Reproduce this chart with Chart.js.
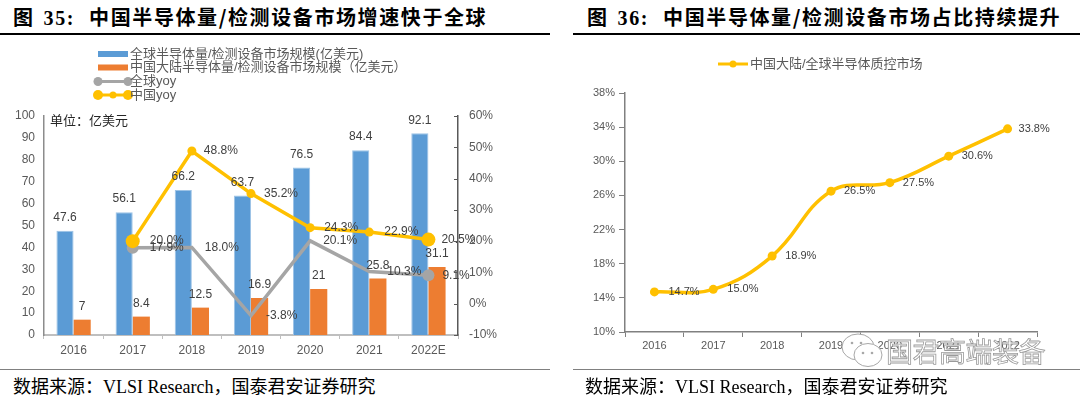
<!DOCTYPE html>
<html>
<head>
<meta charset="utf-8">
<script src="https://cdn.jsdelivr.net/npm/chart.js@4.4.1/dist/chart.umd.min.js"></script>
<style>
  html, body { margin:0; padding:0; background:#fff; }
  body { width:1080px; height:399px; position:relative; overflow:hidden; }
  .title { position:absolute; top:5px; font-family:"Noto Sans CJK SC", sans-serif; font-weight:700; font-size:20px; line-height:24px; letter-spacing:1.6px; color:#000; white-space:nowrap; }
  .title .num { font-family:"Liberation Serif", serif; font-weight:700; margin-left:9px; margin-right:14px; }
  .rule { position:absolute; top:33px; height:2px; background:#000; }
  .brule { position:absolute; top:369px; height:1px; background:#808080; }
  .source { position:absolute; top:377px; font-family:"Liberation Serif", "Noto Sans CJK SC", serif; font-size:18px; line-height:20px; color:#000; white-space:nowrap; }
  .unit { position:absolute; left:50px; top:113px; font-family:"Liberation Sans","Noto Sans CJK SC",sans-serif; font-size:13px; line-height:16px; color:#262626; }
  canvas { position:absolute; }
  .wm { position:absolute; left:886px; top:334px; font-family:"Noto Sans CJK SC", sans-serif; font-size:27px; line-height:34px; color:#fff; -webkit-text-stroke:0.8px #9a9a9a; letter-spacing:-0.5px; white-space:nowrap; }
  .wmicon { position:absolute; left:838px; top:330px; }
</style>
</head>
<body>
<div class="title" style="left:13px">图<span class="num">35:</span>中国半导体量/检测设备市场增速快于全球</div>
<div class="title" style="left:587px">图<span class="num">36:</span>中国半导体量/检测设备市场占比持续提升</div>
<div class="rule" style="left:0;width:550px"></div>
<div class="rule" style="left:573px;width:507px"></div>

<canvas id="left" width="540" height="325" style="left:0;top:40px;width:540px;height:325px"></canvas>
<canvas id="right" width="535" height="325" style="left:545px;top:40px;width:535px;height:325px"></canvas>
<div class="unit">单位：亿美元</div>

<svg class="wmicon" width="50" height="42" viewBox="0 0 50 42">
  <ellipse cx="20" cy="17" rx="16" ry="13" fill="#fff" stroke="#a8a8a8" stroke-width="1"/>
  <ellipse cx="30" cy="25" rx="14" ry="11.5" fill="#fff" stroke="#a8a8a8" stroke-width="1"/>
  <circle cx="25" cy="23" r="1.3" fill="#a8a8a8"/><circle cx="34" cy="23" r="1.3" fill="#a8a8a8"/>
  <circle cx="14" cy="13" r="1.3" fill="#a8a8a8"/><circle cx="23" cy="13" r="1.3" fill="#a8a8a8"/>
</svg>
<div class="wm">国君高端装备</div>

<div class="brule" style="left:0;width:550px"></div>
<div class="brule" style="left:573px;width:507px"></div>
<div class="source" style="left:13px">数据来源：VLSI Research，国泰君安证券研究</div>
<div class="source" style="left:585px">数据来源：VLSI Research，国泰君安证券研究</div>

<script>
// ---------- data ----------
const categories   = ['2016','2017','2018','2019','2020','2021','2022E'];
const globalMarket = [47.6, 56.1, 66.2, 63.7, 76.5, 84.4, 92.1];
const chinaMarket  = [7, 8.4, 12.5, 16.9, 21, 25.8, 31.1];
const globalYoy    = [null, 17.9, 18.0, -3.8, 20.1, 10.3, 9.1];
const chinaYoy     = [null, 20.0, 48.8, 35.2, 24.3, 22.9, 20.5];

const shareYears   = ['2016','2017','2018','2019','2020','2021','2022'];
const chinaShare   = [14.7, 15.0, 18.9, 26.5, 27.5, 30.6, 33.8];

const leftLegend  = ['全球半导体量/检测设备市场规模(亿美元)', '中国大陆半导体量/检测设备市场规模（亿美元）', '全球yoy', '中国yoy'];
const rightLegend = ['中国大陆/全球半导体质控市场'];

// ---------- styling ----------
const BLUE = '#5B9BD5', ORANGE = '#ED7D31', GREY = '#A5A5A5', GOLD = '#FFC000';
const FONT = '"Liberation Sans", Arial, "Noto Sans CJK SC", sans-serif';
Chart.defaults.font.family = FONT;
Chart.defaults.color = '#595959';
Chart.defaults.animation = false;

// value labels plugin
const valueLabels = {
  id: 'valueLabels',
  afterDatasetsDraw(chart) {
    const ctx = chart.ctx;
    chart.data.datasets.forEach((ds, i) => {
      if (!ds.labelMode) return;
      const meta = chart.getDatasetMeta(i);
      ctx.save();
      ctx.font = (ds.labelSize || 12) + 'px ' + FONT;
      ctx.fillStyle = '#404040';
      meta.data.forEach((el, j) => {
        const v = ds.data[j];
        if (v == null) return;
        const txt = ds.labelPct ? v.toFixed(1) + '%' : String(v);
        if (ds.labelMode === 'top') {
          ctx.textAlign = 'center'; ctx.textBaseline = 'middle';
          ctx.fillText(txt, el.x, el.y - 13);
        } else {
          ctx.textAlign = 'left'; ctx.textBaseline = 'middle';
          const off = (ds.labelOffsets && ds.labelOffsets[j]) || 13;
          ctx.fillText(txt, el.x + off, el.y);
        }
      });
      ctx.restore();
    });
  }
};

// custom legend + inward ticks for the left chart
const leftExtras = {
  id: 'leftExtras',
  afterDraw(chart) {
    const ctx = chart.ctx;
    ctx.save();
    // inward ticks on right axis
    const y1 = chart.scales.y1;
    ctx.strokeStyle = '#595959'; ctx.lineWidth = 1;
    y1.ticks.forEach(t => {
      const y = Math.round(y1.getPixelForValue(t.value)) + 0.5;
      ctx.beginPath(); ctx.moveTo(y1.left - 4, y); ctx.lineTo(y1.left, y); ctx.stroke();
    });
    // legend
    const rows = [14, 27.5, 41.5, 55];
    const x0 = 98, x1 = 128;
    ctx.font = '13px ' + FONT; ctx.textBaseline = 'middle'; ctx.textAlign = 'left';
    chart.data.datasets.forEach((ds, i) => {
      const y = rows[i];
      if (ds.type === 'bar') {
        ctx.fillStyle = ds.backgroundColor;
        ctx.fillRect(x0, y - 3, x1 - x0, 6);
      } else {
        ctx.strokeStyle = ds.borderColor; ctx.lineWidth = 3;
        ctx.beginPath(); ctx.moveTo(x0, y); ctx.lineTo(x1, y); ctx.stroke();
        ctx.fillStyle = ds.borderColor;
        const dots = ds.legendDots;
        dots.forEach(d => { ctx.beginPath(); ctx.arc(d[0], y, d[1], 0, Math.PI * 2); ctx.fill(); });
      }
      ctx.fillStyle = '#595959';
      ctx.fillText(leftLegend[i], x1 + 2, y);
    });
    ctx.restore();
  }
};

const rightExtras = {
  id: 'rightExtras',
  afterDraw(chart) {
    const ctx = chart.ctx;
    ctx.save();
    const y = 24, x0 = 173, x1 = 203;
    ctx.strokeStyle = GOLD; ctx.lineWidth = 3;
    ctx.beginPath(); ctx.moveTo(x0, y); ctx.lineTo(x1, y); ctx.stroke();
    ctx.fillStyle = GOLD;
    ctx.beginPath(); ctx.arc((x0 + x1) / 2, y, 3.5, 0, Math.PI * 2); ctx.fill();
    ctx.font = '13px ' + FONT; ctx.textBaseline = 'middle'; ctx.fillStyle = '#595959';
    ctx.fillText(rightLegend[0], x1 + 2, y);
    ctx.restore();
  }
};

// ---------- left chart ----------
new Chart(document.getElementById('left'), {
  data: {
    labels: categories,
    datasets: [
      { type:'bar', label:leftLegend[0], data:globalMarket, backgroundColor:BLUE, borderColor:'#9DC3E6', borderWidth:1,
        categoryPercentage:0.58, barPercentage:1, yAxisID:'y', order:2, labelMode:'top' },
      { type:'bar', label:leftLegend[1], data:chinaMarket, backgroundColor:ORANGE, borderWidth:0,
        categoryPercentage:0.58, barPercentage:1, yAxisID:'y', order:2, labelMode:'top' },
      { type:'line', label:leftLegend[2], data:globalYoy, borderColor:GREY, backgroundColor:GREY, borderWidth:3.5,
        pointRadius:[0,6,0,0,0,0,6], pointBackgroundColor:GREY, pointBorderWidth:0, yAxisID:'y1', order:1, tension:0,
        labelMode:'right', labelPct:true, labelOffsets:[0,17,13,15,13,18,14], legendDots:[[98,4.5],[128,4.5]] },
      { type:'line', label:leftLegend[3], data:chinaYoy, borderColor:GOLD, backgroundColor:GOLD, borderWidth:3.5,
        pointRadius:[0,7,4.5,4.5,4.5,4.5,7], pointBackgroundColor:GOLD, pointBorderWidth:0, yAxisID:'y1', order:0, tension:0,
        labelMode:'right', labelPct:true, labelOffsets:[0,17,12,13,14,15,13], legendDots:[[98,5],[113,3.5],[128,5]] }
    ]
  },
  options: {
    responsive:false, maintainAspectRatio:false,
    layout:{ padding:{ top:76, right:0, bottom:0, left:0 } },
    plugins:{ legend:{ display:false }, tooltip:{ enabled:false } },
    scales:{
      x:{ offset:true,
          grid:{ display:true, drawOnChartArea:false, drawTicks:true, tickLength:4, color:'#BFBFBF', offset:true },
          border:{ color:'#BFBFBF', width:2 },
          ticks:{ color:'#595959', font:{ size:12 }, padding:4, maxRotation:0 },
          afterFit(s){ s.height = 30; } },
      y:{ position:'left', min:0, max:100,
          grid:{ display:false, drawTicks:false },
          border:{ color:'#8C8C8C', width:1.5 },
          ticks:{ stepSize:10, color:'#595959', font:{ size:12 }, padding:9 },
          afterFit(s){ s.width = 44; } },
      y1:{ position:'right', min:-10, max:60,
          grid:{ display:false, drawTicks:false },
          border:{ color:'#595959', width:1.5 },
          ticks:{ stepSize:10, color:'#595959', font:{ size:12 }, padding:11, callback:v => v + '%' },
          afterFit(s){ s.width = 82; } }
    }
  },
  plugins:[valueLabels, leftExtras]
});

// ---------- right chart ----------
new Chart(document.getElementById('right'), {
  type:'line',
  data: {
    labels: shareYears,
    datasets: [
      { label:rightLegend[0], data:chinaShare, borderColor:GOLD, backgroundColor:GOLD, borderWidth:3.5, tension:0.4,
        pointRadius:4.5, pointBackgroundColor:GOLD, pointBorderWidth:0,
        labelMode:'right', labelPct:true, labelSize:11, labelOffsets:[14,14,13,13,13,13,11] }
    ]
  },
  options: {
    responsive:false, maintainAspectRatio:false,
    layout:{ padding:{ top:53, right:43, bottom:0, left:0 } },
    plugins:{ legend:{ display:false }, tooltip:{ enabled:false } },
    scales:{
      x:{ offset:true,
          grid:{ display:true, drawOnChartArea:false, drawTicks:true, tickLength:5, color:'#808080', offset:true },
          border:{ color:'#808080', width:1.5 },
          ticks:{ color:'#595959', font:{ size:11 }, padding:2, maxRotation:0 },
          afterFit(s){ s.height = 33; } },
      y:{ min:10, max:38,
          grid:{ display:true, drawOnChartArea:false, drawTicks:true, tickLength:6, color:'#808080' },
          border:{ color:'#808080', width:1.5 },
          ticks:{ stepSize:4, color:'#595959', font:{ size:11 }, padding:4, callback:v => v + '%' },
          afterFit(s){ s.width = 80; } }
    }
  },
  plugins:[valueLabels, rightExtras]
});
</script>
</body>
</html>
